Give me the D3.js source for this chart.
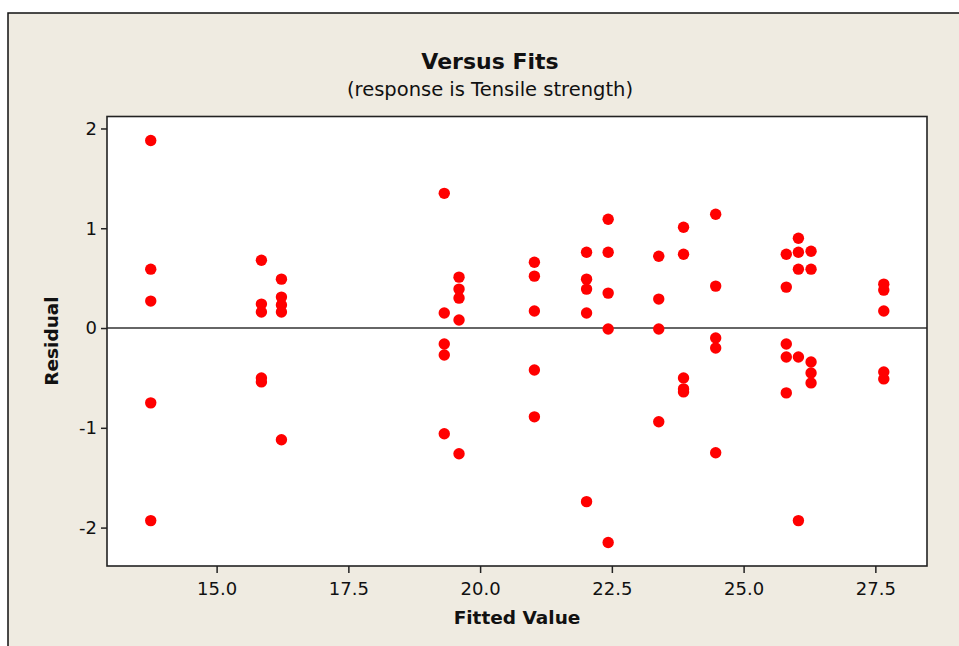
<!DOCTYPE html>
<html>
<head>
<meta charset="utf-8">
<script src="https://cdn.jsdelivr.net/npm/d3@7"></script>
<style>
  html, body { margin: 0; padding: 0; background: #ffffff; }
  svg { display: block; }
  text { font-family: "DejaVu Sans", Verdana, sans-serif; fill: #111; }
</style>
</head>
<body>
<svg id="chart" width="959" height="646"></svg>
<script>
// Residuals versus fitted values, one column of points per fitted level
const fittedLevels = [13.75, 15.85, 16.23, 19.32, 19.60, 21.03, 22.02, 22.43, 23.39, 23.86, 24.47, 25.81, 26.04, 26.28, 27.66];
const residualsByLevel = [
  [1.88, 0.59, 0.27, -0.75, -1.93],
  [0.68, 0.24, 0.16, -0.50, -0.54],
  [0.49, 0.31, 0.23, 0.16, -1.12],
  [1.35, 0.15, -0.16, -0.27, -1.06],
  [0.51, 0.39, 0.30, 0.08, -1.26],
  [0.66, 0.52, 0.17, -0.42, -0.89],
  [0.76, 0.49, 0.39, 0.15, -1.74],
  [1.09, 0.76, 0.35, -0.01, -2.15],
  [0.72, 0.29, -0.01, -0.94],
  [1.01, 0.74, -0.50, -0.61, -0.64],
  [1.14, 0.42, -0.10, -0.20, -1.25],
  [0.74, 0.41, -0.16, -0.29, -0.65],
  [0.90, 0.76, 0.59, -0.29, -1.93],
  [0.77, 0.59, -0.34, -0.45, -0.55],
  [0.44, 0.38, 0.17, -0.44, -0.51]
];
const xTicks = [15.0, 17.5, 20.0, 22.5, 25.0, 27.5];
const yTicks = [-2, -1, 0, 1, 2];

const titleText = "Versus Fits";
const subtitleText = "(response is Tensile strength)";
const xLabel = "Fitted Value";
const yLabel = "Residual";

const points = [];
fittedLevels.forEach((f, i) => residualsByLevel[i].forEach(r => points.push({ fit: f, res: r })));

const svg = d3.select("#chart");

// panel background with its frame
svg.append("rect").attr("x", 8).attr("y", 13).attr("width", 960).attr("height", 640)
  .attr("fill", "#efebe1").attr("stroke", "#111").attr("stroke-width", 1.5);

const plot = { left: 107, top: 116.5, right: 927, bottom: 566 };

const x = d3.scaleLinear().domain([12.92, 28.48]).range([plot.left, plot.right]);
const y = d3.scaleLinear().domain([-2.385, 2.12]).range([plot.bottom, plot.top]);

svg.append("rect").attr("x", plot.left).attr("y", plot.top)
  .attr("width", plot.right - plot.left).attr("height", plot.bottom - plot.top)
  .attr("fill", "#ffffff");

// zero reference line
svg.append("line")
  .attr("x1", plot.left).attr("x2", plot.right)
  .attr("y1", y(0)).attr("y2", y(0))
  .attr("stroke", "#333").attr("stroke-width", 1.4);

// plot frame
svg.append("rect").attr("x", plot.left).attr("y", plot.top)
  .attr("width", plot.right - plot.left).attr("height", plot.bottom - plot.top)
  .attr("fill", "none").attr("stroke", "#222").attr("stroke-width", 1.6);

// axes (plain hyphen for negative numbers)
const xAxis = d3.axisBottom(x).tickValues(xTicks).tickFormat(d => d.toFixed(1)).tickSize(7).tickPadding(9);
const gx = svg.append("g").attr("transform", `translate(0,${plot.bottom})`).call(xAxis);
gx.select(".domain").remove();
gx.selectAll(".tick line").attr("stroke", "#222").attr("stroke-width", 1.5);
gx.selectAll(".tick text").attr("font-size", 18).attr("fill", "#111")
  .attr("font-family", "DejaVu Sans, sans-serif");

const yAxis = d3.axisLeft(y).tickValues(yTicks).tickFormat(d => String(d)).tickSize(6).tickPadding(4);
const gy = svg.append("g").attr("transform", `translate(${plot.left},0)`).call(yAxis);
gy.select(".domain").remove();
gy.selectAll(".tick line").attr("stroke", "#222").attr("stroke-width", 1.5);
gy.selectAll(".tick text").attr("font-size", 18).attr("fill", "#111")
  .attr("font-family", "DejaVu Sans, sans-serif");

// points
svg.append("g").selectAll("circle").data(points).join("circle")
  .attr("cx", d => x(d.fit)).attr("cy", d => y(d.res))
  .attr("r", 5.7).attr("fill", "#ff0000");

// titles
svg.append("text").attr("x", 490).attr("y", 69).attr("text-anchor", "middle")
  .attr("font-size", 22).attr("font-weight", "bold").text(titleText);
svg.append("text").attr("x", 490).attr("y", 96).attr("text-anchor", "middle")
  .attr("font-size", 19.5).text(subtitleText);

svg.append("text").attr("x", 517).attr("y", 624).attr("text-anchor", "middle")
  .attr("font-size", 18.5).attr("font-weight", "bold").text(xLabel);
svg.append("text").attr("transform", `translate(58,${y(0) + 13}) rotate(-90)`)
  .attr("text-anchor", "middle").attr("font-size", 18.5).attr("font-weight", "bold").text(yLabel);
</script>
</body>
</html>
